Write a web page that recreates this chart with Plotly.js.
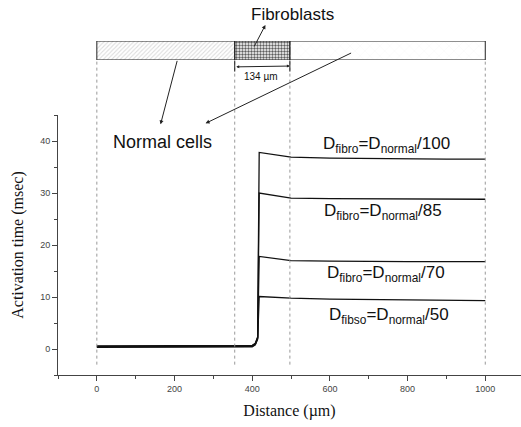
<!DOCTYPE html>
<html>
<head>
<meta charset="utf-8">
<script src="https://cdn.plot.ly/plotly-3.0.1.min.js"></script>
<style>html,body{margin:0;padding:0;background:#fff;}#chart{width:521px;height:427px;}</style>
</head>
<body>
<div id="chart"></div>
<script>
// Distance positions (µm)
var distance = [0, 100, 200, 300, 400, 408, 414, 418, 500, 600, 700, 800, 900, 1000];
// Activation time (msec) for each diffusion ratio
var dRatio100 = [0.5, 0.5, 0.5, 0.5, 0.6, 1.0, 2.2, 37.8, 36.9, 36.7, 36.6, 36.5, 36.5, 36.5];
var dRatio85  = [0.6, 0.6, 0.6, 0.6, 0.7, 1.1, 2.3, 30.0, 29.0, 28.9, 28.9, 28.8, 28.8, 28.8];
var dRatio70  = [0.4, 0.4, 0.4, 0.4, 0.5, 0.9, 2.0, 17.8, 17.0, 16.9, 16.8, 16.8, 16.8, 16.8];
var dRatio50  = [0.3, 0.3, 0.3, 0.3, 0.4, 0.8, 1.9, 10.1, 9.8, 9.6, 9.5, 9.4, 9.3, 9.3];
var seriesLabels = ['D<sub>fibro</sub>=D<sub>normal</sub>/100', 'D<sub>fibro</sub>=D<sub>normal</sub>/85',
                    'D<sub>fibro</sub>=D<sub>normal</sub>/70', 'D<sub>fibso</sub>=D<sub>normal</sub>/50'];
// Tissue strip segments (µm)
var segStart = [0, 355, 497];
var segLength = [355, 142, 503];
var segNames = ['Normal cells', 'Fibroblasts', 'Normal cells'];
var boundaries = [0, 355, 497, 1000];

var lineStyle = {color: '#111', width: 1.3};
var traces = [dRatio100, dRatio85, dRatio70, dRatio50].map(function (ys, i) {
  return {x: distance, y: ys, type: 'scatter', mode: 'lines', line: lineStyle,
          name: seriesLabels[i], showlegend: false, hoverinfo: 'skip'};
});
traces.push({
  type: 'bar', orientation: 'h', y: [0, 0, 0], x: segLength, base: segStart,
  yaxis: 'y2', width: 1, text: segNames, textposition: 'none', hoverinfo: 'skip',
  showlegend: false,
  marker: {
    color: ['#dcdcdc', '#5e5e5e', '#f6f6f6'],
    line: {color: '#222', width: 1},
    pattern: {shape: ['/', '.', 'x'], fgcolor: ['#7a7a7a', '#1a1a1a', '#aaa'],
              size: [3, 3, 7], solidity: [0.35, 0.5, 0.12]}
  }
});

var plotTopPaper = 260 / 370;
var shapes = boundaries.map(function (b) {
  return {type: 'line', xref: 'x', yref: 'paper', x0: b, x1: b, y0: 0.028, y1: 0.8514,
          line: {color: '#999', width: 1, dash: 'dot'}};
});
// dimension marker end ticks
[355, 497].forEach(function (b) {
  shapes.push({type: 'line', xref: 'x', yref: 'paper', x0: b, x1: b, y0: 0.82, y1: 0.85,
               line: {color: '#222', width: 1}});
});

var sans = 'Liberation Sans, Arial, sans-serif';
var annotations = [
  {xref: 'x', yref: 'paper', x: 504, y: 0.973, text: 'Fibroblasts', showarrow: false, yanchor: 'middle',
   font: {family: sans, size: 17, color: '#111'}},
  {xref: 'x', yref: 'paper', x: 422, y: 0.826, text: '134 µm', showarrow: false,
   font: {family: sans, size: 10, color: '#111'}, yanchor: 'top'},
  // dimension arrow
  {xref: 'x', yref: 'paper', x: 497, y: 0.835, ax: 355, ay: 0.835, axref: 'x', ayref: 'pixel',
   showarrow: true, arrowhead: 2, arrowside: 'end+start', arrowsize: 0.6, arrowwidth: 1, arrowcolor: '#222', text: ''},
  // Fibroblasts arrow (head near label)
  {xref: 'x', yref: 'paper', x: 434, y: 0.946, ax: -12, ay: 23, showarrow: true, arrowhead: 2,
   arrowsize: 0.8, arrowwidth: 1, arrowcolor: '#222', text: ''},
  {xref: 'x', yref: 'y', x: 170, y: 39.8, text: 'Normal cells', showarrow: false,
   font: {family: sans, size: 18, color: '#111'}},
  // Normal cells arrows
  {xref: 'x', yref: 'y', x: 164, y: 43.2, ax: 17, ay: -65, showarrow: true, arrowhead: 2,
   arrowsize: 0.8, arrowwidth: 1, arrowcolor: '#222', text: ''},
  {xref: 'x', yref: 'y', x: 280, y: 43.4, ax: 147, ay: -71, showarrow: true, arrowhead: 2,
   arrowsize: 0.8, arrowwidth: 1, arrowcolor: '#222', text: ''}
];
var labelY = [39.3, 26.3, 14.5, 6.4];
var labelX = [576, 580, 588, 592];
labelY.forEach(function (yv, i) {
  annotations.push({xref: 'x', yref: 'y', x: labelX[i], y: yv, text: seriesLabels[i], showarrow: false,
                    xanchor: 'left', font: {family: sans, size: 17, color: '#111'}});
});

var tickFont = {family: sans, size: 9, color: '#444'};
var titleFont = {family: 'Liberation Serif, Times New Roman, serif', size: 16, color: '#111'};
var layout = {
  width: 521, height: 427,
  margin: {l: 58, r: 0, t: 5, b: 52},
  paper_bgcolor: '#fff', plot_bgcolor: '#fff',
  showlegend: false,
  barmode: 'overlay',
  xaxis: {
    range: [-100, 1092], showgrid: false, zeroline: false, showline: true, linecolor: '#444', linewidth: 1,
    ticks: 'outside', ticklen: 5, tickcolor: '#444', dtick: 200, tick0: 0,
    minor: {dtick: 100, ticks: 'outside', ticklen: 3, tickcolor: '#444'},
    tickfont: tickFont, title: {text: 'Distance (µm)', font: titleFont, standoff: 12}
  },
  yaxis: {
    domain: [0, plotTopPaper], range: [-5, 45], showgrid: false, zeroline: false, showline: true,
    linecolor: '#444', linewidth: 1, ticks: 'outside', ticklen: 5, tickcolor: '#444', dtick: 10, tick0: 0,
    minor: {dtick: 5, ticks: 'outside', ticklen: 3, tickcolor: '#444'},
    tickfont: tickFont, title: {text: 'Activation time (msec)', font: titleFont, standoff: 12}
  },
  yaxis2: {domain: [0.8514, 0.9027], range: [-0.5, 0.5], visible: false, anchor: 'x', fixedrange: true},
  shapes: shapes,
  annotations: annotations
};
Plotly.newPlot('chart', traces, layout, {staticPlot: true, displayModeBar: false});
</script>
</body>
</html>
